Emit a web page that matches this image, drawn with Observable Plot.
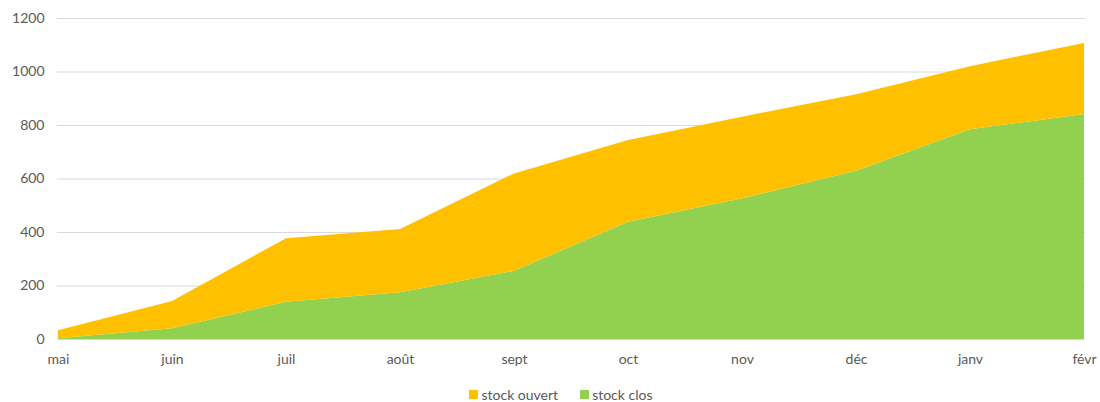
<!DOCTYPE html>
<html>
<head>
<meta charset="utf-8">
<script src="https://cdn.jsdelivr.net/npm/d3@7"></script>
<script src="https://cdn.jsdelivr.net/npm/@observablehq/plot@0.6"></script>
<style>
  body { margin: 0; background: #fff; font-family: Lato, "Open Sans", sans-serif; }
  #legend { display: flex; justify-content: center; gap: 22px; font-size: 14px; color: #595959; margin-top: 14px; padding-left: 22px; }
  .item { display: flex; align-items: center; gap: 3px; }
  .sw { width: 9px; height: 9px; display: inline-block; }
</style>
</head>
<body>
<div id="chart"></div>
<div id="legend"></div>
<script>
const months = ["mai","juin","juil","août","sept","oct","nov","déc","janv","févr"];
const stockClos = [3, 40, 139, 175, 255, 438, 526, 629, 784, 841];
const stockOuvert = [30, 102, 238, 236, 364, 306, 305, 286, 236, 266];
const seriesNames = ["stock ouvert", "stock clos"];
const seriesColors = ["#FFC000", "#92D050"];
const yTicks = [0, 200, 400, 600, 800, 1000, 1200];

const data = [];
months.forEach((m, i) => {
  data.push({month: m, series: "stock clos", value: stockClos[i]});
  data.push({month: m, series: "stock ouvert", value: stockOuvert[i]});
});

const chart = Plot.plot({
  width: 1100,
  height: 372,
  marginTop: 18,
  marginBottom: 33,
  marginLeft: 57,
  marginRight: 15,
  style: {fontFamily: "Lato, 'Open Sans', sans-serif", fontSize: "14px", color: "#595959"},
  x: {type: "point", domain: months, padding: 0, label: null},
  y: {domain: [0, 1200], label: null},
  color: {domain: seriesNames, range: seriesColors},
  marks: [
    Plot.gridY(yTicks, {stroke: "#d9d9d9", strokeOpacity: 1, strokeWidth: 1}),
    Plot.areaY(data, {x: "month", y: "value", fill: "series", order: ["stock clos", "stock ouvert"]}),
    Plot.ruleY([0], {stroke: "#d9d9d9", strokeWidth: 1}),
    Plot.axisY(yTicks, {tickSize: 0, tickPadding: 13, tickFormat: d => String(d), label: null, fill: "#595959"}),
    Plot.axisX({tickSize: 0, tickPadding: 15, label: null, fill: "#595959"})
  ]
});
document.getElementById("chart").appendChild(chart);

const legend = document.getElementById("legend");
seriesNames.forEach((name, i) => {
  const item = document.createElement("span");
  item.className = "item";
  const sw = document.createElement("span");
  sw.className = "sw";
  sw.style.background = seriesColors[i];
  item.appendChild(sw);
  item.appendChild(document.createTextNode(name));
  legend.appendChild(item);
});
</script>
</body>
</html>
